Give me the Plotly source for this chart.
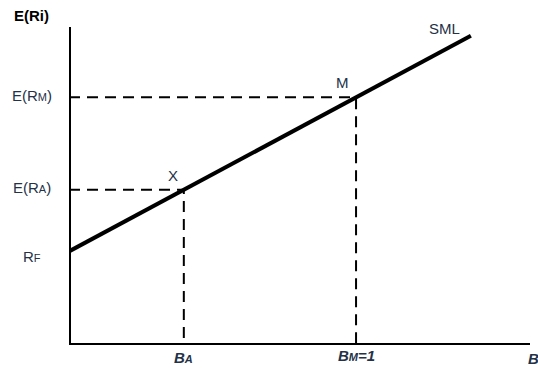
import plotly.graph_objects as go

# Data (units arbitrary)
rf = 3.1
er_m = 8.2
beta_a = 0.4
beta_m = 1.0
beta_end = 1.4
x_max = 1.606
y_max = 10.53

sml_beta = [0.0, beta_end]
sml_ret = [rf + b * (er_m - rf) for b in sml_beta]
er_a = rf + beta_a * (er_m - rf)

y_labels = ["R<span style='font-size:11px'>F</span>",
            "E(R<span style='font-size:11px'>A</span>)",
            "E(R<span style='font-size:11px'>M</span>)"]
y_label_vals = [rf, er_a, er_m]

TXT = "#233247"
FONT = "Liberation Sans, Arial, sans-serif"
FS = 15

fig = go.Figure()

# Dashed guides
fig.add_trace(go.Scatter(x=[0, beta_m, beta_m], y=[er_m, er_m, 0], mode="lines",
                         line=dict(color="black", width=2, dash="11px,7px"),
                         hoverinfo="skip", showlegend=False))
fig.add_trace(go.Scatter(x=[0, beta_a, beta_a], y=[er_a, er_a, 0], mode="lines",
                         line=dict(color="black", width=2, dash="11px,7px"),
                         hoverinfo="skip", showlegend=False))
# SML
fig.add_trace(go.Scatter(x=sml_beta, y=sml_ret, mode="lines",
                         line=dict(color="black", width=4),
                         hoverinfo="skip", showlegend=False))
# Axes lines
fig.add_trace(go.Scatter(x=[0, 0, x_max], y=[y_max, 0, 0], mode="lines",
                         line=dict(color="black", width=4),
                         hoverinfo="skip", showlegend=False, cliponaxis=False))

lab_x = -0.13 / x_max  # paper coordinate left of the y axis
annotations = []
for lab, v in zip(y_labels, y_label_vals):
    annotations.append(dict(x=lab_x, y=v / y_max, xref="paper", yref="paper", text=lab,
                            showarrow=False, xanchor="center", yanchor="middle",
                            yshift=-5 if v == rf else 2,
                            font=dict(family=FONT, size=FS, color=TXT)))
annotations.append(dict(x=lab_x, y=1, xref="paper", yref="paper", text="<b>E(Ri)</b>",
                        showarrow=False, xanchor="center", yanchor="bottom", yshift=1,
                        font=dict(family=FONT, size=FS, color="black")))
annotations += [
    dict(x=beta_a, y=er_a, text="X", showarrow=False, xanchor="center", yanchor="bottom",
         xshift=-11, yshift=4, font=dict(family=FONT, size=FS, color=TXT)),
    dict(x=beta_m, y=er_m, text="M", showarrow=False, xanchor="center", yanchor="bottom",
         xshift=-14, yshift=4, font=dict(family=FONT, size=FS, color=TXT)),
    dict(x=beta_end, y=sml_ret[1], text="SML", showarrow=False, xanchor="right", yanchor="bottom",
         xshift=-9, yshift=-3, font=dict(family=FONT, size=FS, color=TXT)),
    dict(x=beta_a / x_max, y=0, xref="paper", yref="paper",
         text="<b><i>B<span style='font-size:11px'>A</span></i></b>", showarrow=False,
         xanchor="center", yanchor="top", yshift=-2,
         font=dict(family=FONT, size=FS, color=TXT)),
    dict(x=beta_m / x_max, y=0, xref="paper", yref="paper",
         text="<b><i>B<span style='font-size:11px'>M</span>=1</i></b>", showarrow=False,
         xanchor="center", yanchor="top", yshift=0,
         font=dict(family=FONT, size=FS, color=TXT)),
    dict(x=1, y=0, xref="paper", yref="paper", text="<b><i>B</i></b>", showarrow=False,
         xanchor="center", yanchor="top", xshift=3, yshift=-3,
         font=dict(family=FONT, size=FS, color=TXT)),
]

fig.update_layout(
    width=538, height=368,
    margin=dict(l=69, r=8, t=27, b=23),
    paper_bgcolor="white", plot_bgcolor="white",
    xaxis=dict(range=[0, x_max], showgrid=False, zeroline=False, showticklabels=False,
               showline=False, ticks="", fixedrange=True),
    yaxis=dict(range=[0, y_max], showgrid=False, zeroline=False, showticklabels=False,
               showline=False, ticks="", fixedrange=True),
    annotations=annotations,
)

fig.write_html("out.html", config={"displayModeBar": False},
               post_script="document.body.style.margin='0';")
